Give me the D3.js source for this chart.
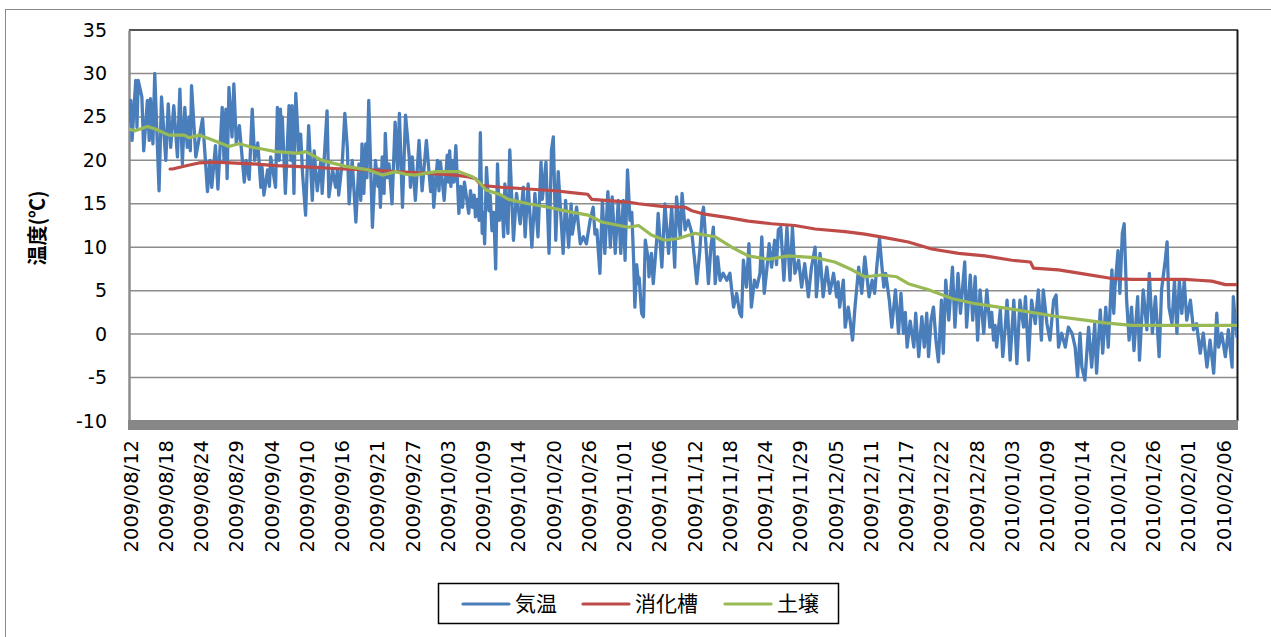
<!DOCTYPE html>
<html><head><meta charset="utf-8">
<script src="https://cdn.jsdelivr.net/npm/d3@7"></script>
<style>body{margin:0;background:#fff}svg{display:block}</style>
</head><body>
<svg id="c" width="1271" height="637"></svg>
<script>
// ---- data ----
const startDate = "2009-08-12";
const tickStepHours = 138;
const xTickLabels = ["2009/08/12","2009/08/18","2009/08/24","2009/08/29","2009/09/04","2009/09/10","2009/09/16","2009/09/21","2009/09/27","2009/10/03","2009/10/09","2009/10/14","2009/10/20","2009/10/26","2009/11/01","2009/11/06","2009/11/12","2009/11/18","2009/11/24","2009/11/29","2009/12/05","2009/12/11","2009/12/17","2009/12/22","2009/12/28","2010/01/03","2010/01/09","2010/01/14","2010/01/20","2010/01/26","2010/02/01","2010/02/06"];
const yTicks = [-10,-5,0,5,10,15,20,25,30,35];
const seriesNames = ["気温","消化槽","土壌"];
const seriesColors = ["#4a7ebb","#be4b48","#98b954"];
// [days since start, °C]
const airTemp = [[0,24.5],[0.3,26.9],[0.5,22.3],[1.1,29.2],[1.3,23.8],[1.5,29.2],[2.1,27.3],[2.4,21.1],[3,26.9],[3.3,22.3],[3.5,27.1],[3.9,21.9],[4.2,30],[4.9,16.5],[5.3,27.3],[6,20],[6.4,26.5],[6.8,21.5],[7.3,26.3],[7.9,20.4],[8.3,28.2],[8.7,19.6],[9.1,26.1],[9.5,21.5],[9.8,25],[10,21.1],[10.2,28.6],[10.9,20.4],[12,24.8],[12.8,16.4],[13.2,20],[13.5,16.9],[14.1,21.7],[14.5,16.7],[15.2,26.1],[15.5,20],[15.8,25.9],[16,17.9],[16.3,28.4],[16.8,22.7],[17.1,28.8],[17.5,21.9],[18,24],[18.8,17.5],[19.1,20],[19.6,17.8],[20.1,25.9],[20.5,20],[21,22],[21.5,16.9],[21.7,19.2],[22,16],[22.6,18.9],[22.9,17],[23.1,20.4],[23.9,16.9],[24.2,26.1],[24.5,20],[24.7,25.9],[24.85,21],[25,25],[25.5,16.2],[26.1,26.3],[26.4,20],[26.6,26.3],[26.9,16.2],[27.2,27.7],[27.7,20.8],[28,23],[28.3,18.5],[28.8,13.7],[29.3,24],[29.9,15.4],[30.2,21.1],[30.7,16.5],[31.3,20],[31.5,16.2],[32.3,25.7],[32.6,15.8],[33.2,18.9],[33.7,16.9],[34,19],[34.2,16],[34.8,20],[35.2,25.4],[35.6,21.5],[35.9,15],[36.4,20],[37,12.9],[37.5,19.6],[37.8,15.4],[38,21.9],[38.3,16.2],[38.6,21.9],[38.8,18],[39.1,26.9],[39.7,12.3],[40.2,20],[40.6,17],[40.8,19],[41,14.6],[41.3,20.4],[41.6,16.2],[41.8,23.1],[42.1,18],[42.4,19.6],[42.9,15],[43.4,24.4],[43.8,18.9],[44.1,25.4],[44.6,14.6],[45.1,25.2],[45.7,20.4],[45.9,16.9],[46.2,20.4],[46.7,15.4],[47.3,22.3],[47.8,16.5],[48.5,22.3],[49.2,16.4],[49.5,18.5],[49.7,14.6],[50.3,20],[50.55,16.5],[50.8,19.8],[51.4,15.4],[51.9,20.6],[52.1,17.5],[52.3,21.1],[52.5,17],[52.7,20],[53,17.5],[53.3,21.7],[53.8,13.9],[54.1,17],[54.4,14.6],[54.7,17.5],[55.4,13.9],[55.7,16.5],[56,14.6],[56.3,16],[56.5,13.5],[56.8,15.5],[57.1,13.1],[57.3,23.2],[57.6,11.6],[57.8,14],[58,10.4],[58.3,19.2],[58.7,14.2],[58.9,16],[59.2,11.9],[59.5,14],[59.8,7.5],[60.1,19.6],[60.4,13.1],[60.8,15.8],[61.1,11.2],[61.3,17.3],[61.8,11.6],[62.1,21.2],[62.7,10.8],[63.2,16.2],[63.8,12.7],[64.3,16.9],[64.6,11.2],[65.1,17.3],[65.7,10],[66.2,16.2],[66.7,11.2],[67.2,19.8],[67.4,15.5],[67.6,16.9],[68,19.8],[68.5,9.3],[68.9,21.2],[69.2,22.7],[69.6,10.8],[70,18.7],[70.8,9.3],[71.2,15.4],[71.7,10],[72.1,15],[72.3,11.5],[73,14.6],[73.6,10.4],[74.1,11.2],[74.6,10.4],[75.2,13.1],[75.7,14.6],[76,11.5],[76.3,12],[76.8,7],[77.2,15.4],[77.6,9.3],[78.1,16.4],[78.5,10],[78.8,15.8],[79.3,9.3],[79.8,15.4],[80.2,9.3],[80.6,15.4],[80.9,8.5],[81.3,18.9],[81.7,13.1],[82,14],[82.3,8.5],[82.5,3.1],[82.8,8],[83.1,5.8],[83.2,6.5],[83.6,2.4],[83.9,2],[84.2,10.8],[84.7,8.5],[84.8,6.6],[85.2,9.3],[85.5,5.8],[86.1,11.2],[86.3,13.9],[86.9,7.7],[87.4,15],[88,9.3],[88.5,14.6],[89,7.7],[89.3,15.8],[89.9,11.2],[90.2,16.2],[90.7,12],[91.2,13.1],[91.8,11.6],[92.3,8.1],[92.6,5.8],[93.1,9.7],[93.5,13.9],[93.7,14.6],[94.5,5.8],[94.9,10],[95.3,12.3],[95.6,5.8],[96,8.9],[96.4,6.2],[96.9,7],[97.5,6.2],[98,7],[98.6,3.1],[99.1,4.7],[99.6,2.4],[99.9,2],[100.2,8.5],[100.7,5.4],[101.1,10.4],[101.5,3.1],[102,6.2],[102.4,5.4],[102.9,7],[103.2,11.2],[103.6,4.7],[104,7.3],[104.4,10.4],[104.8,7.7],[105.3,10.8],[105.6,8],[105.9,12],[106.3,12.3],[106.8,6.2],[107.3,12.3],[107.8,6.2],[108.2,12.3],[108.6,7],[109.2,8.5],[109.7,5.4],[110.2,8.1],[110.8,4.3],[111.3,7.7],[111.9,10],[112.1,4.3],[112.7,9.3],[113.2,4.3],[113.8,7.7],[114.3,4.7],[114.9,7],[115.4,4.3],[115.65,6],[115.9,3.1],[116.5,6.2],[116.8,0.8],[117.3,3.1],[117.6,1.6],[118,-0.7],[118.4,3.1],[119,7.7],[119.5,4.7],[120,8.9],[120.7,4.3],[121.2,6.2],[121.6,4.7],[122,8.1],[122.4,11],[122.7,8.5],[123.1,5.4],[123.4,7],[124,3.9],[124.4,0.8],[125,5.1],[125.5,0.1],[125.9,4.7],[126.3,0.1],[126.6,2.5],[126.9,-1.5],[127.4,1.5],[128,-1.5],[128.3,2.4],[128.8,-2.6],[129.3,2],[129.7,-1.5],[130.1,2.4],[130.4,-2.6],[130.8,1.6],[131.2,3.1],[131.6,-0.7],[132,-3.2],[132.5,3.9],[132.8,-2.2],[133.2,6.2],[133.7,1.6],[134.3,7.7],[134.7,0.8],[135.2,7],[135.6,2.4],[136.3,8.3],[136.6,0.8],[137.2,6.8],[137.6,1.6],[138,6.6],[138.4,-0.7],[138.8,5.1],[139.4,0.1],[139.9,5.1],[140.4,0.8],[140.7,2.5],[141,-0.7],[141.25,1],[141.5,-1.5],[142.1,2.8],[142.5,-2.6],[142.9,0.8],[143.2,3.9],[143.7,-3],[144.3,3.9],[144.8,-3.4],[145.3,3.9],[145.9,0.8],[146.2,4.3],[146.7,-3],[147.2,3.9],[147.8,1.2],[148.3,5.1],[148.8,-0.7],[149.1,5.1],[149.7,1.2],[150.2,-0.7],[150.8,3.9],[151.2,4.5],[151.6,-1.5],[152.1,0.1],[152.7,-1.5],[153.2,0.8],[153.8,0.1],[154.3,-1.5],[154.7,-4.9],[155.1,0.1],[155.4,-3.8],[155.9,-5.3],[156.5,0.8],[157,-3.8],[157.5,1.2],[157.8,-4.5],[158.4,2.8],[158.8,-2.2],[159.3,3.1],[159.7,-1.5],[160.3,7.4],[160.6,2.4],[160.8,5.4],[161.3,9.6],[161.6,4.7],[162,11.6],[162.3,12.7],[162.7,3.9],[163.1,-0.7],[163.5,3.1],[163.9,-1.9],[164.5,4.3],[164.8,-3],[165.4,5.1],[166,0.5],[166.4,7],[166.9,0.1],[167.4,4.3],[168,-2.6],[168.4,5.1],[169,8.5],[169.3,10.6],[169.6,3.1],[170.1,1.2],[170.5,6.2],[170.9,0.1],[171.3,6.2],[171.7,2.4],[172.1,6.2],[172.5,1.6],[173.1,3.9],[173.6,0.5],[174.1,1.2],[174.7,-2.2],[175.2,0.1],[175.8,-3.8],[176.3,-0.7],[176.9,-4.5],[177.4,2.4],[177.7,-1.5],[178.2,0.1],[178.8,-2.6],[179.3,0.5],[179.9,-3.8],[180.1,4.3],[180.4,1.6],[180.7,-0.3]];
const digesterTemp = [[6.7,19],[7.1,19],[8.3,19.2],[9.5,19.4],[11.4,19.7],[14,19.8],[20.1,19.6],[23.9,19.4],[27,19.3],[30.4,19.2],[34.8,19],[39.1,18.9],[43.5,18.7],[48.9,18.5],[53.3,18.3],[55.4,18.1],[56.5,17.9],[57.2,17.3],[57.6,17.1],[60.7,16.9],[65.1,16.7],[69.5,16.5],[73.3,16.2],[74.8,16.1],[75.5,15.5],[81.4,15.2],[83.1,15],[86.9,14.7],[90.7,14.6],[91.8,14.2],[93.9,13.8],[97.7,13.4],[101,13],[104.8,12.7],[108.6,12.5],[111.9,12.1],[116.8,11.8],[120,11.5],[123.3,11.1],[127.1,10.6],[130.9,9.8],[135.3,9.3],[139.6,9],[144,8.5],[147,8.3],[147.5,7.6],[151.6,7.4],[155.9,6.9],[160.3,6.4],[163.5,6.3],[172.2,6.3],[174.4,6.2],[176.6,6.1],[178.8,5.7],[180.7,5.7]];
const soilTemp = [[0,23.6],[1,23.4],[3,23.9],[4.3,23.6],[6.5,22.9],[9,22.9],[9.8,22.6],[11.4,22.9],[13,22.5],[16.3,21.6],[17.9,21.9],[20.1,21.5],[21.7,21.3],[23.9,21],[27.7,20.8],[28.8,21],[31.5,20],[35.3,19.3],[39.1,18.9],[41.3,18.3],[43.5,18.7],[45.1,18.4],[46.7,18.3],[50,18.7],[53.8,18.7],[56,18.1],[57.1,17.5],[58.2,16.6],[60.7,16],[61.9,15.5],[65.1,15],[68.4,14.6],[71.7,14.1],[74.9,13.7],[77.1,12.9],[81.4,12.3],[83.1,12.5],[85.2,11.4],[87.4,10.8],[89.6,11],[92.3,11.6],[95.6,11.2],[98.3,10],[101,9],[104.3,8.6],[107.5,9],[111.9,8.8],[115.1,8.3],[117.9,7.4],[120,6.6],[122.8,6.8],[125.2,6.6],[127.1,5.8],[130.4,5.1],[134.2,4.1],[138,3.5],[142.9,3],[147.2,2.5],[151.6,2],[155.9,1.6],[159.2,1.3],[163.5,1],[180.7,1]];
const lastDay = 180.7;

// ---- layout ----
const svg = d3.select("#c");
const L = 129, R = 1237, T = 30, B = 421;
const t0 = new Date(startDate + "T00:00:00");
const dayToDate = d => new Date(t0.getTime() + d * 864e5);
const x = d3.scaleTime().domain([t0, dayToDate(lastDay)]).range([L, R]);
const y = d3.scaleLinear().domain([-10, 35]).range([B, T]);

// outer frame
svg.append("rect").attr("x",5.5).attr("y",9.5).attr("width",1400).attr("height",800)
  .attr("fill","none").attr("stroke","#8a8a8a").attr("stroke-width",1);

// gridlines
svg.append("g").selectAll("line").data(yTicks.filter(v=>v>-10 && v<35)).join("line")
  .attr("x1",L).attr("x2",R).attr("y1",d=>y(d)).attr("y2",d=>y(d))
  .attr("stroke","#8c8c8c").attr("stroke-width",1.5);

// plot border
svg.append("line").attr("x1",L).attr("x2",R+1).attr("y1",T).attr("y2",T).attr("stroke","#1a1a1a").attr("stroke-width",1.5);
svg.append("line").attr("x1",R+0.5).attr("x2",R+0.5).attr("y1",T).attr("y2",B).attr("stroke","#1a1a1a").attr("stroke-width",2);

// y axis
const yAxis = d3.axisLeft(y).tickValues(yTicks).tickSize(0).tickPadding(22).tickFormat(d=>String(d));
const gy = svg.append("g").attr("transform",`translate(${L},0)`).call(yAxis);
gy.select(".domain").attr("stroke","#8c8c8c").attr("stroke-width",2.5);
gy.selectAll("text").attr("font-family","'DejaVu Sans', sans-serif").attr("font-size",19).attr("fill","#000");

// bottom band (horizontal axis floor)
svg.append("rect").attr("x",L-1).attr("y",B-1).attr("width",R-L+2).attr("height",10).attr("fill","#878787");

// x tick labels
const tickDates = xTickLabels.map((s,i)=>new Date(t0.getTime() + i*tickStepHours*36e5));
const xAxis = d3.axisBottom(x).tickValues(tickDates).tickSize(0).tickFormat((d,i)=>xTickLabels[i]);
const gx = svg.append("g").call(xAxis);
gx.select(".domain").remove();
gx.selectAll(".tick").attr("transform",null);
gx.selectAll("text").attr("font-family","'DejaVu Sans', sans-serif").attr("font-size",19.5).attr("fill","#000")
  .attr("text-anchor","end").attr("y",0).attr("x",-19).attr("dy","0.36em")
  .attr("transform",d=>`translate(${x(d)+1.5},${B}) rotate(-90)`);

// y title
svg.append("text").attr("transform","translate(45,228) rotate(-90)").attr("text-anchor","middle")
  .attr("font-family","'Noto Sans CJK JP', sans-serif").attr("font-weight","bold").attr("font-size",20)
  .text("温度(℃)");

// lines
const line = d3.line().x(d=>x(dayToDate(d[0]))).y(d=>y(d[1]));
const data = [airTemp, digesterTemp, soilTemp];
svg.append("clipPath").attr("id","pc").append("rect").attr("x",L).attr("y",T).attr("width",R-L).attr("height",B-T);
const gl = svg.append("g").attr("clip-path","url(#pc)");
data.forEach((s,i)=>{
  gl.append("path").datum(s).attr("d",line).attr("fill","none").attr("stroke",seriesColors[i])
    .attr("stroke-width",i===0?3.3:3.2).attr("stroke-linejoin","round").attr("stroke-linecap","round");
});

// legend
const lg = svg.append("g");
lg.append("rect").attr("x",438.5).attr("y",583.5).attr("width",400).attr("height",40)
  .attr("fill","#fff").attr("stroke","#000").attr("stroke-width",1.5);
const legX = [463, 583, 725];
seriesNames.forEach((n,i)=>{
  lg.append("line").attr("x1",legX[i]).attr("x2",legX[i]+46).attr("y1",604).attr("y2",604)
    .attr("stroke",seriesColors[i]).attr("stroke-width",3.2).attr("stroke-linecap","round");
  lg.append("text").attr("x",legX[i]+52).attr("y",604).attr("dy","0.35em")
    .attr("font-family","'Noto Sans CJK JP', sans-serif").attr("font-size",21).text(n);
});
</script>
</body></html>
